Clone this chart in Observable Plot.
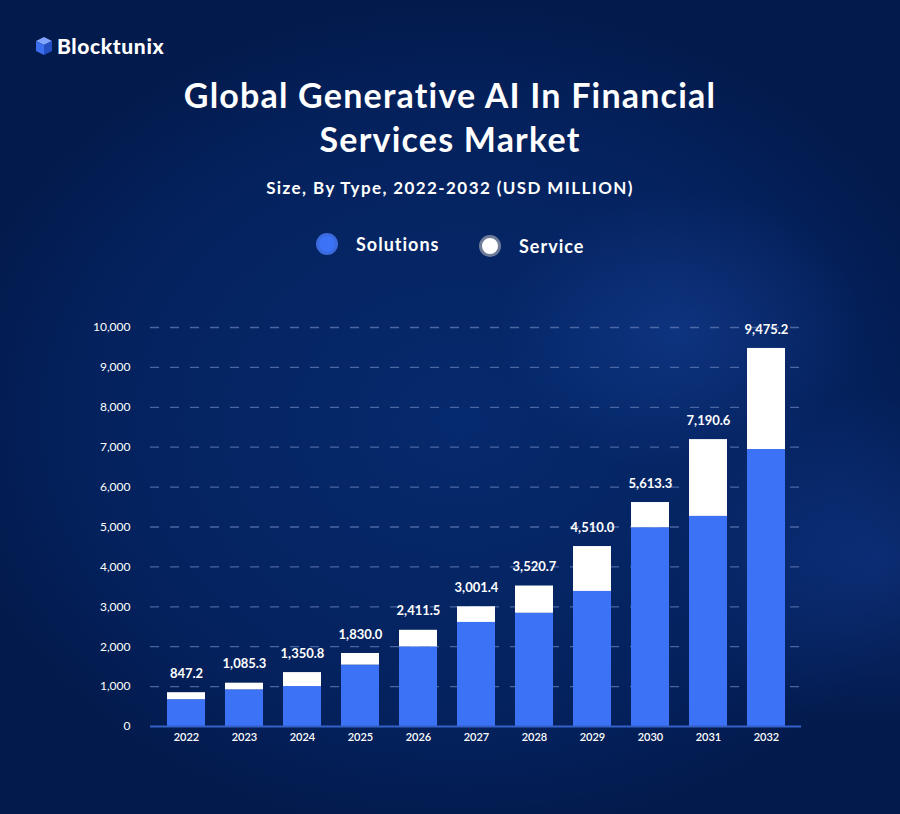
<!DOCTYPE html>
<html>
<head>
<meta charset="utf-8">
<script src="https://cdn.jsdelivr.net/npm/d3@7"></script>
<script src="https://cdn.jsdelivr.net/npm/@observablehq/plot@0.6"></script>
<style>
  html, body { margin: 0; padding: 0; }
  #page {
    position: relative; width: 900px; height: 814px; overflow: hidden;
    font-family: Lato, "Open Sans", sans-serif; color: #fff;
    background:
      radial-gradient(ellipse 260px 200px at 680px 330px, rgba(40,90,200,0.28), rgba(40,90,200,0) 70%),
      radial-gradient(ellipse 300px 240px at 880px 560px, rgba(30,80,190,0.30), rgba(30,80,190,0) 70%),
      radial-gradient(ellipse 520px 420px at 460px 420px, #062a6e, #04215c 75%, #031a4c 100%);
  }
  #logo { position: absolute; left: 34px; top: 33px; display: flex; align-items: center; }
  #logo span { font-weight: 900; font-size: 21px; margin-left: 3px; letter-spacing: 0.6px; }
  #title { position: absolute; left: 0; width: 900px; top: 73px; text-align: center;
    font-size: 34px; font-weight: 700; line-height: 44px; letter-spacing: 1.2px; }
  #subtitle { position: absolute; left: 0; width: 900px; top: 177px; text-align: center;
    font-size: 17px; font-weight: 700; letter-spacing: 1.4px; }
  .leg { position: absolute; display: flex; align-items: center; font-size: 18px; font-weight: 700; letter-spacing: 1px; }
  .dot { width: 16px; height: 16px; border-radius: 50%; margin-right: 18px; box-sizing: content-box; }
  #chart { position: absolute; left: 0; top: 290px; }
</style>
</head>
<body>
<div id="page">
  <div id="logo">
    <svg width="20" height="20" viewBox="0 0 20 20">
      <polygon points="10,1 18,5 10,9 2,5" fill="#7fa3ff"/>
      <polygon points="2,5 10,9 10,19 2,15" fill="#3b6ff0"/>
      <polygon points="10,9 18,5 18,15 10,19" fill="#2450c4"/>
    </svg>
    <span>Blocktunix</span>
  </div>
  <div id="title">Global Generative AI In Financial<br>Services Market</div>
  <div id="subtitle">Size, By Type, 2022-2032 (USD MILLION)</div>
  <div class="leg" style="left:316px; top:233px;"><div class="dot" style="background:#3b72f6; border:3px solid rgba(60,100,200,0.55);"></div>Solutions</div>
  <div class="leg" style="left:479px; top:235px;"><div class="dot" style="background:#ffffff; border:3px solid #6f7c99;"></div>Service</div>
  <div id="chart"></div>
</div>
<script>
const years = ["2022","2023","2024","2025","2026","2027","2028","2029","2030","2031","2032"];
const totals = [847.2, 1085.3, 1350.8, 1830.0, 2411.5, 3001.4, 3520.7, 4510.0, 5613.3, 7190.6, 9475.2];
const solutions = [672, 918, 1001, 1538, 1994, 2608, 2838, 3385, 4981, 5266, 6942];
const service = [175.2, 167.3, 349.8, 292.0, 417.5, 393.4, 682.7, 1125.0, 632.3, 1924.6, 2533.2];
const types = ["Solutions", "Service"];
const typeColors = ["#3b72f6", "#ffffff"];
const yTicks = [0, 1000, 2000, 3000, 4000, 5000, 6000, 7000, 8000, 9000, 10000];

const rows = [];
years.forEach((y, i) => {
  rows.push({year: y, type: "Solutions", value: solutions[i]});
  rows.push({year: y, type: "Service", value: service[i]});
});
const totalRows = years.map((y, i) => ({year: y, total: totals[i]}));

const chart = Plot.plot({
  width: 900,
  height: 476,
  marginLeft: 150,
  marginRight: 99,
  marginTop: 37,
  marginBottom: 40,
  style: {background: "transparent", color: "#fff", fontFamily: "Lato, 'Open Sans', sans-serif", overflow: "visible"},
  x: {domain: years, paddingInner: 0.345, paddingOuter: 0.28, label: null},
  y: {domain: [0, 10000], label: null},
  color: {domain: types, range: typeColors},
  marks: [
    Plot.gridY(yTicks.slice(1), {stroke: "#5d77b0", strokeOpacity: 0.8, strokeWidth: 1.3, strokeDasharray: "9,11"}),
    Plot.barY(rows, {x: "year", y: "value", fill: "type", order: types}),
    Plot.ruleY([0], {stroke: "#3560c8", strokeWidth: 2}),
    Plot.text(totalRows, {x: "year", y: "total", text: d => d3.format(",.1f")(d.total), dy: -19,
      fill: "#fff", fontSize: 13, fontWeight: 700}),
    Plot.axisY({ticks: yTicks, tickFormat: d3.format(","), tickSize: 0, tickPadding: 20, fontSize: 12, fill: "#fff", label: null}),
    Plot.axisX({tickSize: 0, tickPadding: 7, fontSize: 11, fill: "#fff", fontWeight: 600, label: null})
  ]
});
document.getElementById("chart").appendChild(chart);
</script>
</body>
</html>
